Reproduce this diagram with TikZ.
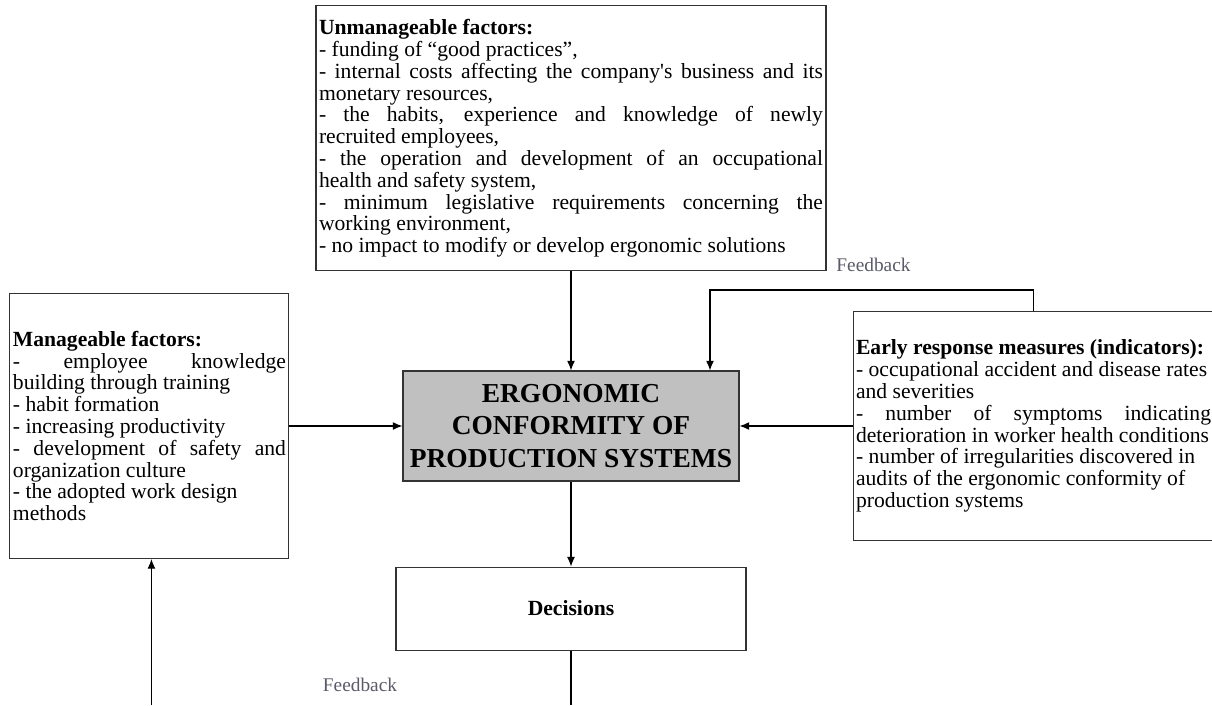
\documentclass[tikz,border=0pt]{standalone}
\usepackage{fontspec}
\setmainfont{Liberation Serif}
\usepackage{xcolor}
\usetikzlibrary{positioning, arrows.meta}

\definecolor{boxline}{RGB}{51,51,51}
\definecolor{ecpsfill}{RGB}{192,192,192}
\definecolor{fbgray}{RGB}{90,90,105}

\hyphenpenalty=10000
\exhyphenpenalty=10000
\tolerance=9999
\hbadness=10000

\begin{document}
\begin{tikzpicture}[
    node distance=1.98cm and 2.26cm,
    box/.style={draw=boxline, line width=0.6pt, rectangle, align=justify, inner xsep=0.06cm, inner ysep=0pt, minimum height=5.3cm, font=\fontsize{12.3}{12.4}\selectfont},
    ecpsbox/.style={draw=boxline, line width=0.6pt, fill=ecpsfill, minimum width=6.72cm, minimum height=2.2cm, inner sep=0pt, align=center, font=\fontsize{15.6}{18.7}\selectfont\bfseries},
    decbox/.style={draw=boxline, line width=0.6pt, minimum width=7cm, minimum height=1.66cm, inner sep=0pt, font=\fontsize{12.3}{12.4}\selectfont\bfseries},
    fblabel/.style={text=fbgray, inner sep=0pt, font=\fontsize{11}{13}\selectfont},
    arrow/.style={-{Latex[length=5.5pt, width=4.5pt]}, line width=0.6pt},
    line/.style={line width=0.6pt}
]
    \useasboundingbox (0,0) rectangle (24.24,-14.1);
    \clip (0,0) rectangle (24.24,-14.1);

    \node[ecpsbox] (ecps) at (11.42,-8.52) {ERGONOMIC\\CONFORMITY OF\\PRODUCTION SYSTEMS};
    \node[box, text width=10.08cm, above=of ecps] (unman) {\textbf{Unmanageable factors:}\\
        - funding of “good practices”,\\
        - internal costs affecting the company\textquotesingle s business and its\linebreak monetary resources,\\
        - the habits, experience and knowledge of newly\linebreak recruited employees,\\
        - the operation and development of an occupational\linebreak health and safety system,\\
        - minimum legislative requirements concerning the\linebreak working environment,\\
        - no impact to modify or develop ergonomic solutions};
    \node[box, text width=5.46cm, left=of ecps] (manage) {\textbf{Manageable factors:}\\
        - employee knowledge\linebreak building through training\\
        - habit formation\\
        - increasing productivity\\
        - development of safety and\linebreak organization culture\\
        - the adopted work design\\
        methods};
    \node[box, text width=7.1cm, minimum height=4.58cm, right=of ecps] (early) {\textbf{Early response measures (indicators):}\\
        - occupational accident and disease rates\\
        and severities\\
        - number of symptoms indicating\linebreak deterioration in worker health conditions\\
        - number of irregularities discovered in\\
        audits of the ergonomic conformity of\\
        production systems};
    \node[decbox, below=1.7cm of ecps] (decide) {Decisions};

    \node[fblabel] (fbtop) at (17.47,-5.3) {Feedback};
    \node[fblabel] (fbbottom) at (7.2,-13.7) {Feedback};
    \coordinate (floor) at (0,-14.1);

    \draw[arrow] (unman) -- (ecps);
    \draw[arrow] (early.north) -- ++(0,0.42) -| ([xshift=2.78cm]ecps.north);
    \draw[arrow] (manage) -- (ecps);
    \draw[arrow] (early) -- (ecps);
    \draw[arrow] (ecps) -- (decide);
    \draw[line] (decide.south) -- (decide.south |- floor);
    \draw[arrow] ([xshift=0.04cm]manage.south |- floor) -- ([xshift=0.04cm]manage.south);
\end{tikzpicture}
\end{document}
